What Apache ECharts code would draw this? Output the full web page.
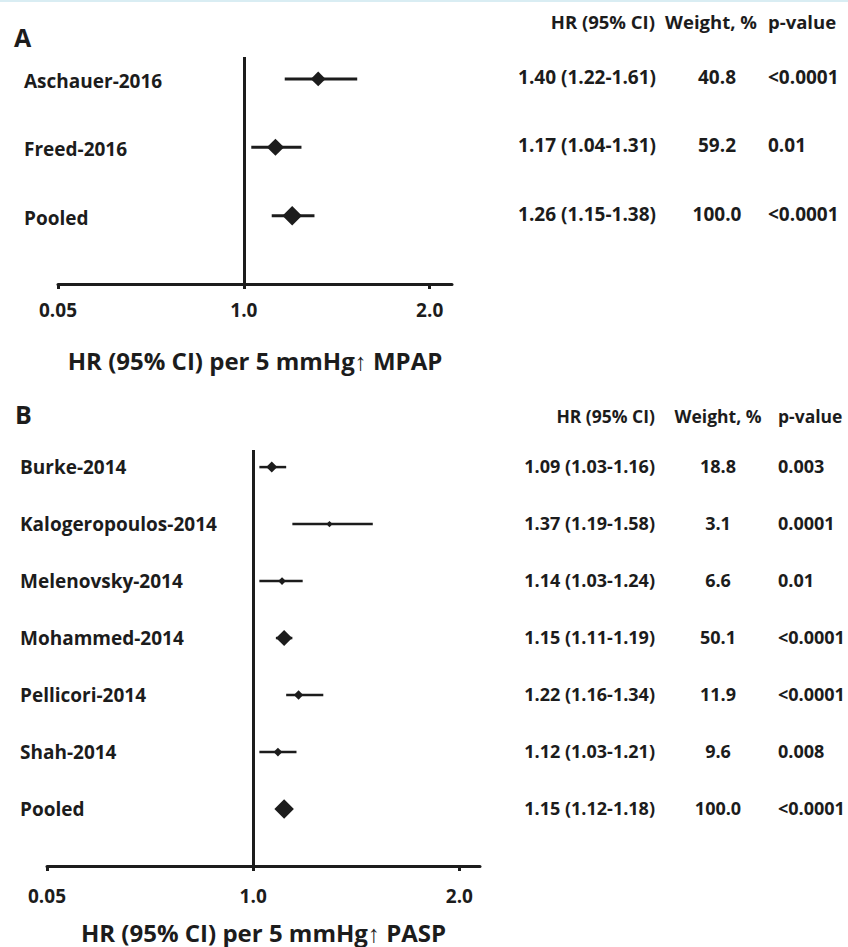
<!DOCTYPE html>
<html>
<head>
<meta charset="utf-8">
<script src="https://cdn.jsdelivr.net/npm/echarts@6/dist/echarts.min.js"></script>
<style>
html,body{margin:0;padding:0;background:#fff;}
#wrap{width:848px;height:947px;position:relative;border-top:2px solid #d9edf3;box-sizing:border-box;}
#chart{width:848px;height:945px;}
</style>
</head>
<body>
<div id="wrap"><div id="chart"></div></div>
<script>
// ---------- Data ----------
const studiesA = ['Aschauer-2016', 'Freed-2016', 'Pooled'];
const hrA      = [1.40, 1.17, 1.26];
const loA      = [1.22, 1.04, 1.15];
const hiA      = [1.61, 1.31, 1.38];
const weightA  = [40.8, 59.2, 100.0];
const pA       = ['<0.0001', '0.01', '<0.0001'];

const studiesB = ['Burke-2014', 'Kalogeropoulos-2014', 'Melenovsky-2014', 'Mohammed-2014', 'Pellicori-2014', 'Shah-2014', 'Pooled'];
const hrB      = [1.09, 1.37, 1.14, 1.15, 1.22, 1.12, 1.15];
const loB      = [1.03, 1.19, 1.03, 1.11, 1.16, 1.03, 1.12];
const hiB      = [1.16, 1.58, 1.24, 1.19, 1.34, 1.21, 1.18];
const weightB  = [18.8, 3.1, 6.6, 50.1, 11.9, 9.6, 100.0];
const pB       = ['0.003', '0.0001', '0.01', '<0.0001', '<0.0001', '0.008', '<0.0001'];

const tickValues = [0, 1, 2];
const tickLabels = ['0.05', '1.0', '2.0'];
const refValue = 1;
const headers = ['HR (95% CI)', 'Weight, %', 'p-value'];
const axisTitleA = 'HR (95% CI) per 5 mmHg\u2191 MPAP';
const axisTitleB = 'HR (95% CI) per 5 mmHg\u2191 PASP';

// ---------- Styling ----------
const FONT = '"Open Sans", "Noto Sans", sans-serif';
const INK = '#1c1c1c';

function tickFmt(v) {
  const i = tickValues.indexOf(Math.round(v * 1000) / 1000);
  return i >= 0 ? tickLabels[i] : '';
}
function markerSize(w) { return Math.min(19.5, 3 + 1.85 * Math.sqrt(w)); }

function buildData(studies, hr, lo, hi, w, p) {
  return studies.map((s, i) => ({ value: [hr[i], lo[i], hi[i], i + 1, w[i]], name: s, p: p[i] }));
}

function makeRender(cfg, studies, p) {
  return function (params, api) {
    const i = params.dataIndex;
    const hr = api.value(0), lo = api.value(1), hi = api.value(2), row = api.value(3), w = api.value(4);
    const c = api.coord([hr, row]);
    const a = api.coord([lo, row]);
    const b = api.coord([hi, row]);
    const s = markerSize(w) / 2;
    const txt = (t, x, align, size, dy) => ({
      type: 'text', x: x, y: c[1] + dy,
      style: { text: t, fill: INK, fontFamily: FONT, fontWeight: 'bold', fontSize: size, align: align, verticalAlign: 'middle' }
    });
    return {
      type: 'group',
      children: [
        { type: 'line', shape: { x1: a[0], y1: a[1], x2: b[0], y2: b[1] }, style: { stroke: INK, lineWidth: cfg.lw } },
        { type: 'polygon', shape: { points: [[c[0] - s, c[1]], [c[0], c[1] - s], [c[0] + s, c[1]], [c[0], c[1] + s]] }, style: { fill: INK } },
        txt(studies[i], cfg.labelX, 'left', cfg.labelSize, cfg.labelDy),
        txt(hr.toFixed(2) + ' (' + lo.toFixed(2) + '-' + hi.toFixed(2) + ')', cfg.hrX, 'right', cfg.tableSize, cfg.tableDy),
        txt(w.toFixed(1), cfg.wX, 'center', cfg.tableSize, cfg.tableDy),
        txt(p[i], cfg.pX, 'left', cfg.tableSize, cfg.tableDy)
      ]
    };
  };
}

const cfgA = { lw: 3, labelX: 24, hrX: 656, wX: 717, pX: 768, labelSize: 19, tableSize: 19, labelDy: 2, tableDy: -2 };
const cfgB = { lw: 2.5, labelX: 20, hrX: 655, wX: 718, pX: 778, labelSize: 19, tableSize: 18, labelDy: 0, tableDy: -1 };

function xAxisCfg(gridIndex, max, title, gap, margin) {
  return {
    type: 'value', gridIndex: gridIndex, min: 0, max: max, interval: 1,
    axisLine: { show: true, lineStyle: { color: INK, width: 3 } },
    axisTick: { show: true, length: 5, lineStyle: { color: INK, width: 3 } },
    splitLine: { show: false },
    axisLabel: { formatter: tickFmt, color: INK, fontFamily: FONT, fontWeight: 'bold', fontSize: 19, margin: margin, showMaxLabel: false },
    name: title, nameLocation: 'middle', nameGap: gap,
    nameTextStyle: { color: INK, fontFamily: FONT, fontWeight: 'bold', fontSize: 24 }
  };
}
function yAxisCfg(gridIndex, min, max) {
  return {
    type: 'value', gridIndex: gridIndex, inverse: true, min: min, max: max,
    axisLine: { show: false }, axisTick: { show: false }, axisLabel: { show: false }, splitLine: { show: false }
  };
}
function refLine() {
  return {
    silent: true, symbol: 'none', animation: false,
    label: { show: false },
    lineStyle: { color: INK, width: 3, type: 'solid' },
    data: [{ xAxis: refValue }]
  };
}
function headerTexts(y, cfgHdr) {
  const f = 'bold ' + cfgHdr.size + 'px ' + FONT;
  return [
    { type: 'text', x: cfgHdr.hrX, y: y, style: { text: headers[0], fill: INK, font: f, textAlign: 'right', textVerticalAlign: 'middle' } },
    { type: 'text', x: cfgHdr.wX, y: y, style: { text: headers[1], fill: INK, font: f, textAlign: 'center', textVerticalAlign: 'middle' } },
    { type: 'text', x: cfgHdr.pX, y: y, style: { text: headers[2], fill: INK, font: f, textAlign: 'left', textVerticalAlign: 'middle' } }
  ];
}

const chart = echarts.init(document.getElementById('chart'), null, { renderer: 'svg' });
chart.setOption({
  animation: false,
  backgroundColor: '#fff',
  grid: [
    { left: 58, top: 55, width: 394, height: 227 },
    { left: 47, top: 448, width: 433, height: 416 }
  ],
  xAxis: [
    xAxisCfg(0, 2.12, axisTitleA, 64, 16),
    xAxisCfg(1, 2.1, axisTitleB, 54, 20)
  ],
  yAxis: [
    yAxisCfg(0, 0.68, 4),
    yAxisCfg(1, 0.7, 8)
  ],
  graphic: [
    { type: 'text', x: 14, y: 35, style: { text: 'A', fill: INK, font: 'bold 25px ' + FONT, textVerticalAlign: 'middle' } },
    { type: 'text', x: 15, y: 412, style: { text: 'B', fill: INK, font: 'bold 25px ' + FONT, textVerticalAlign: 'middle' } }
  ].concat(headerTexts(19, { hrX: 655, wX: 711, pX: 768, size: 18.5 }))
   .concat(headerTexts(414, { hrX: 655, wX: 718, pX: 778, size: 17.5 })),
  series: [
    {
      type: 'custom', xAxisIndex: 0, yAxisIndex: 0, clip: false,
      renderItem: makeRender(cfgA, studiesA, pA),
      data: buildData(studiesA, hrA, loA, hiA, weightA, pA),
      markLine: refLine()
    },
    {
      type: 'custom', xAxisIndex: 1, yAxisIndex: 1, clip: false,
      renderItem: makeRender(cfgB, studiesB, pB),
      data: buildData(studiesB, hrB, loB, hiB, weightB, pB),
      markLine: refLine()
    }
  ]
});
</script>
</body>
</html>
